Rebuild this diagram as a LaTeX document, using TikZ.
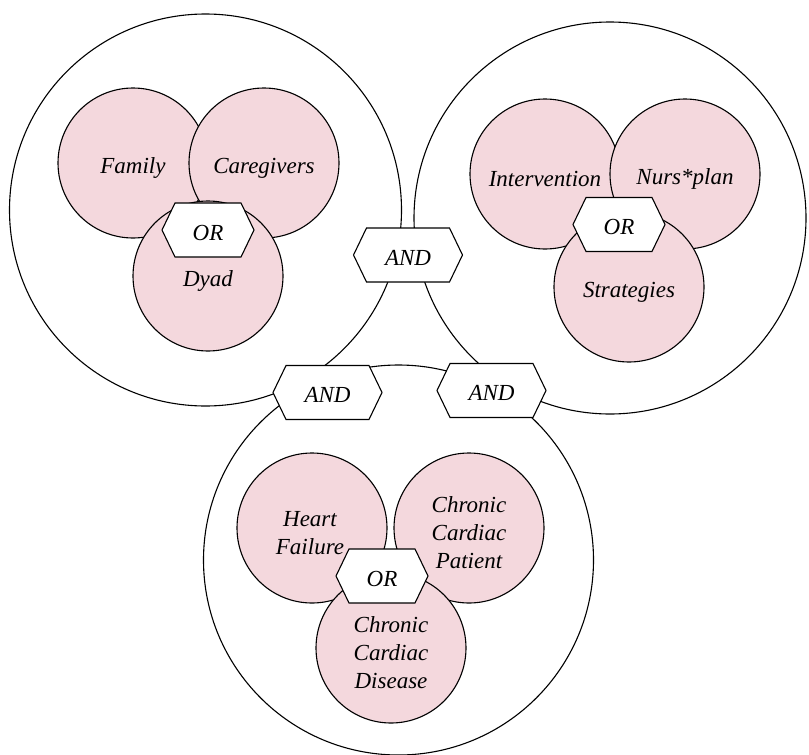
\documentclass[tikz,border=0pt]{standalone}
\usepackage{fontspec}
\setmainfont{Liberation Serif}
\definecolor{pinkfill}{RGB}{244,216,221}
\tikzset{
  outer/.style={circle, draw=black, line width=1.1pt, inner sep=0pt},
  term/.style={circle, draw=black, fill=pinkfill, line width=1.1pt, minimum size=150pt, inner sep=0pt},
  lbl/.style={align=center, font=\fontsize{23}{28}\selectfont\itshape, inner sep=0pt},
  gateline/.style={draw=black, fill=white, line width=1.1pt, line join=miter},
  gatetext/.style={font=\fontsize{23}{28}\selectfont\itshape, inner sep=0pt}
}
\newcommand\hexgate[4]{%
  \coordinate (#1) at (#2);
  \path[gateline] ([shift={(-#3-13,0)}]#1) -- ([shift={(-#3,-27)}]#1) -- ([shift={(#3,-27)}]#1)
    -- ([shift={(#3+13,0)}]#1) -- ([shift={(#3,27)}]#1) -- ([shift={(-#3,27)}]#1) -- cycle;
  \node[gatetext] (#1t) at ([yshift=-2.5pt]#1) {#4};
}
\begin{document}
\begin{tikzpicture}[x=1pt,y=-1pt]
\useasboundingbox (0,0) rectangle (809,755);
% group circles
\node[outer, minimum size=392pt] (gA) at (205.5,210) {};
\node[outer, minimum size=392pt] (gB) at (610,218) {};
\node[outer, minimum size=390pt] (gC) at (398.5,560) {};
% term circles
\node[term] (c1) at (133,163) {};
\node[term] (c2) at (264,163) {};
\node[term] (c3) at (208,276) {};
\node[term] (c4) at (545,174) {};
\node[term] (c5) at (685,174) {};
\node[term] (c6) at (629,287) {};
\node[term] (c7) at (312,528) {};
\node[term] (c8) at (469,528) {};
\node[term] (c9) at (391,648) {};
% labels
\node[lbl] (t1) at ([yshift=-5pt]c1) {Family};
\node[lbl] (t2) at ([yshift=-5pt]c2) {Caregivers};
\node[lbl] (t3) at ([yshift=-5pt]c3) {Dyad};
\node[lbl] (t4) at ([yshift=-5pt]c4) {Intervention};
\node[lbl] (t5) at ([yshift=-5pt]c5) {Nurs*plan};
\node[lbl] (t6) at ([yshift=-5pt]c6) {Strategies};
\node[lbl] (t7) at ([shift={(-2pt,-5pt)}]c7) {Heart\\Failure};
\node[lbl] (t8) at ([yshift=-5pt]c8) {Chronic\\Cardiac\\Patient};
\node[lbl] (t9) at ([yshift=-5pt]c9) {Chronic\\Cardiac\\Disease};
% gates
\hexgate{or1}{208,230}{33}{OR}
\hexgate{or2}{619,224.5}{33}{OR}
\hexgate{or3}{382,576}{33}{OR}
\hexgate{and1}{408,255}{41.5}{AND}
\hexgate{and2}{327.5,392.5}{41.5}{AND}
\hexgate{and3}{491.5,390.5}{41.5}{AND}
\end{tikzpicture}
\end{document}
